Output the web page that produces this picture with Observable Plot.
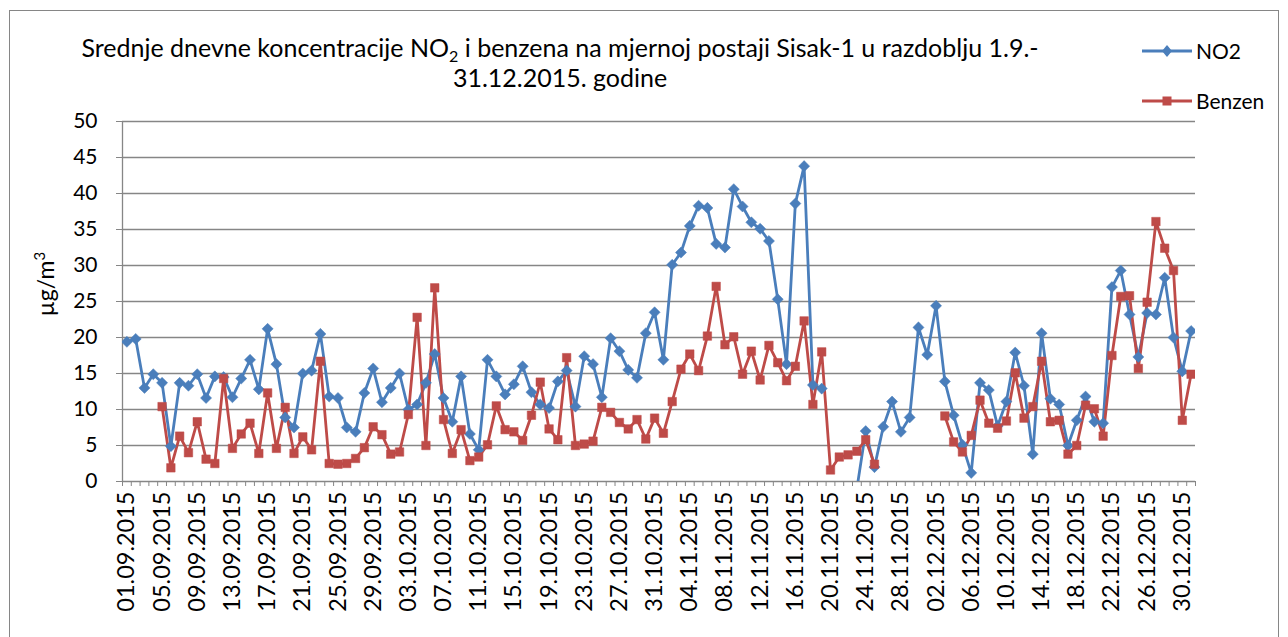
<!DOCTYPE html>
<html>
<head>
<meta charset="utf-8">
<script src="https://cdn.jsdelivr.net/npm/d3@7"></script>
<script src="https://cdn.jsdelivr.net/npm/@observablehq/plot@0.6"></script>
<style>
  html, body { margin: 0; padding: 0; background: #fff; overflow: hidden; }
  #wrap { position: relative; width: 1288px; height: 637px; font-family: Lato, "Open Sans", sans-serif; color: #000; }
  #frame { position: absolute; left: 9px; top: 10px; width: 1270px; height: 700px; border: 1px solid #868686; box-sizing: border-box; }
  #title { position: absolute; left: 0px; width: 1120px; top: 32px; text-align: center; font-size: 25px; line-height: 30px; }
  #title sub { font-size: 16px; vertical-align: -5px; line-height: 0; }
  .leg { position: absolute; font-size: 21px; display: flex; align-items: center; }
  .leg svg { margin-right: 4px; }
  #chart { position: absolute; left: 0; top: 0; }
  #ytitle { position: absolute; left: 45px; top: 284px; font-size: 23px; white-space: nowrap; transform: translate(-50%, -50%) rotate(-90deg); }
  #ytitle sup { font-size: 15px; vertical-align: 9px; line-height: 0; }
</style>
</head>
<body>
<div id="wrap">
  <div id="frame"></div>
  <div id="chart"></div>
  <div id="title">Srednje dnevne koncentracije NO<sub>2</sub> i benzena na mjernoj postaji Sisak-1 u razdoblju 1.9.-<br>31.12.2015. godine</div>
  <div id="ytitle">µg/m<sup>3</sup></div>
  <div class="leg" id="leg1" style="left:1142px; top:38px;"></div>
  <div class="leg" id="leg2" style="left:1142px; top:88px;"></div>
</div>
<script>
// Categories: daily dates 01.09.2015 - 31.12.2015
const startDate = new Date(2015, 8, 1);
const endDate = new Date(2016, 0, 1);
const fmt = d3.timeFormat("%d.%m.%Y");
const dates = d3.timeDay.range(startDate, endDate).map(fmt);

// Series values (µg/m3), one per day; null = no data
const no2 = [
  19.4, 19.8, 13.0, 14.9, 13.7, 4.9, 13.7, 13.3, 14.9, 11.6,
  14.6, 14.5, 11.7, 14.3, 16.9, 12.8, 21.2, 16.3, 8.9, 7.5,
  15.0, 15.4, 20.5, 11.8, 11.6, 7.5, 6.9, 12.3, 15.7, 11.0,
  13.0, 15.0, 10.0, 10.7, 13.7, 17.7, 11.6, 8.3, 14.6, 6.6,
  4.4, 16.9, 14.6, 12.1, 13.5, 16.0, 12.4, 10.7, 10.2, 13.9,
  15.4, 10.4, 17.4, 16.3, 11.7, 19.9, 18.1, 15.5, 14.4, 20.6,
  23.5, 16.9, 30.1, 31.8, 35.5, 38.3, 38.0, 33.0, 32.5, 40.6,
  38.2, 36.0, 35.1, 33.4, 25.3, 16.3, 38.6, 43.8, 13.4, 12.9,
  null, null, null, -1.0, 7.0, 2.0, 7.6, 11.1, 6.9, 8.9,
  21.4, 17.6, 24.4, 13.9, 9.2, 5.1, 1.2, 13.7, 12.7, 7.7,
  11.1, 17.9, 13.3, 3.8, 20.6, 11.5, 10.7, 5.0, 8.5, 11.8,
  8.3, 8.1, 27.0, 29.3, 23.2, 17.3, 23.4, 23.2, 28.3, 20.0,
  15.3, 20.9
];
const benzen = [
  null, null, null, null, 10.4, 1.9, 6.3, 4.0, 8.3, 3.1,
  2.5, 14.3, 4.6, 6.6, 8.1, 3.9, 12.3, 4.6, 10.3, 3.9,
  6.2, 4.4, 16.7, 2.5, 2.4, 2.5, 3.2, 4.7, 7.6, 6.5,
  3.8, 4.1, 9.3, 22.8, 5.0, 26.9, 8.6, 3.9, 7.2, 2.9,
  3.4, 5.1, 10.5, 7.2, 6.9, 5.7, 9.2, 13.8, 7.3, 5.8,
  17.2, 5.0, 5.2, 5.6, 10.3, 9.6, 8.2, 7.3, 8.6, 5.9,
  8.8, 6.7, 11.1, 15.6, 17.7, 15.4, 20.2, 27.1, 19.0, 20.1,
  14.9, 18.1, 14.1, 18.9, 16.5, 14.0, 16.0, 22.3, 10.7, 18.0,
  1.6, 3.4, 3.7, 4.2, 5.8, 2.4, null, null, null, null,
  null, null, null, 9.1, 5.5, 4.1, 6.4, 11.3, 8.1, 7.4,
  8.4, 15.1, 8.8, 10.4, 16.7, 8.3, 8.5, 3.8, 5.0, 10.6,
  10.1, 6.3, 17.5, 25.7, 25.8, 15.7, 24.9, 36.1, 32.4, 29.3,
  8.5, 14.9
];
const seriesNames = ["NO2", "Benzen"];
const colors = ["#4A7EBB", "#BE4B48"];
const yTicks = [0, 5, 10, 15, 20, 25, 30, 35, 40, 45, 50];
const labelEvery = 4;

const n = dates.length;
const no2Data = no2.map((v, i) => ({i, v}));
const benData = benzen.map((v, i) => ({i, v}));
const labelIdx = d3.range(0, n, labelEvery);
const boundaries = d3.range(-0.5, n, 1);

const chart = Plot.plot({
  width: 1288,
  height: 637,
  marginLeft: 122,
  marginRight: 93,
  marginTop: 121,
  marginBottom: 156,
  style: {fontFamily: "Lato, 'Open Sans', sans-serif", background: "transparent", color: "#000"},
  x: {type: "linear", domain: [-0.5, n - 0.5]},
  y: {domain: [0, 50]},
  marks: [
    Plot.ruleY(yTicks, {stroke: "#868686", strokeWidth: 1.3}),
    Plot.ruleX([-0.5], {stroke: "#868686", strokeWidth: 1.3}),
    Plot.axisY({ticks: yTicks, tickSize: 6, tickPadding: 19, fontSize: 21, label: null, stroke: "#868686", tickFormat: d => d}),
    Plot.axisX({ticks: boundaries, tickSize: 5, tickFormat: () => "", label: null, stroke: "#868686"}),
    Plot.axisX({ticks: labelIdx, tickSize: 0, tickPadding: 10, tickRotate: -90, fontSize: 23.5, label: null, tickFormat: i => dates[i]}),
    Plot.line(no2Data, {x: "i", y: "v", stroke: colors[0], strokeWidth: 2.8, clip: true}),
    Plot.line(benData, {x: "i", y: "v", stroke: colors[1], strokeWidth: 2.8, clip: true}),
    Plot.dot(no2Data, {x: "i", y: "v", symbol: "diamond2", r: 5, fill: colors[0], stroke: colors[0], strokeWidth: 0.5, clip: true}),
    Plot.dot(benData, {x: "i", y: "v", symbol: "square", r: 4.8, fill: colors[1], stroke: colors[1], strokeWidth: 0.5, clip: true})
  ]
});
document.getElementById("chart").appendChild(chart);

// Legend
function legendItem(el, name, color, symbol) {
  const mk = symbol === "diamond"
    ? `<path d="M25,4 L30,10 L25,16 L20,10 Z" fill="${color}"/>`
    : `<rect x="20.5" y="5.5" width="9" height="9" fill="${color}"/>`;
  el.innerHTML = `<svg width="50" height="20"><line x1="0" y1="10" x2="50" y2="10" stroke="${color}" stroke-width="2.8"/>${mk}</svg><span>${name}</span>`;
}
legendItem(document.getElementById("leg1"), seriesNames[0], colors[0], "diamond");
legendItem(document.getElementById("leg2"), seriesNames[1], colors[1], "square");
</script>
</body>
</html>
